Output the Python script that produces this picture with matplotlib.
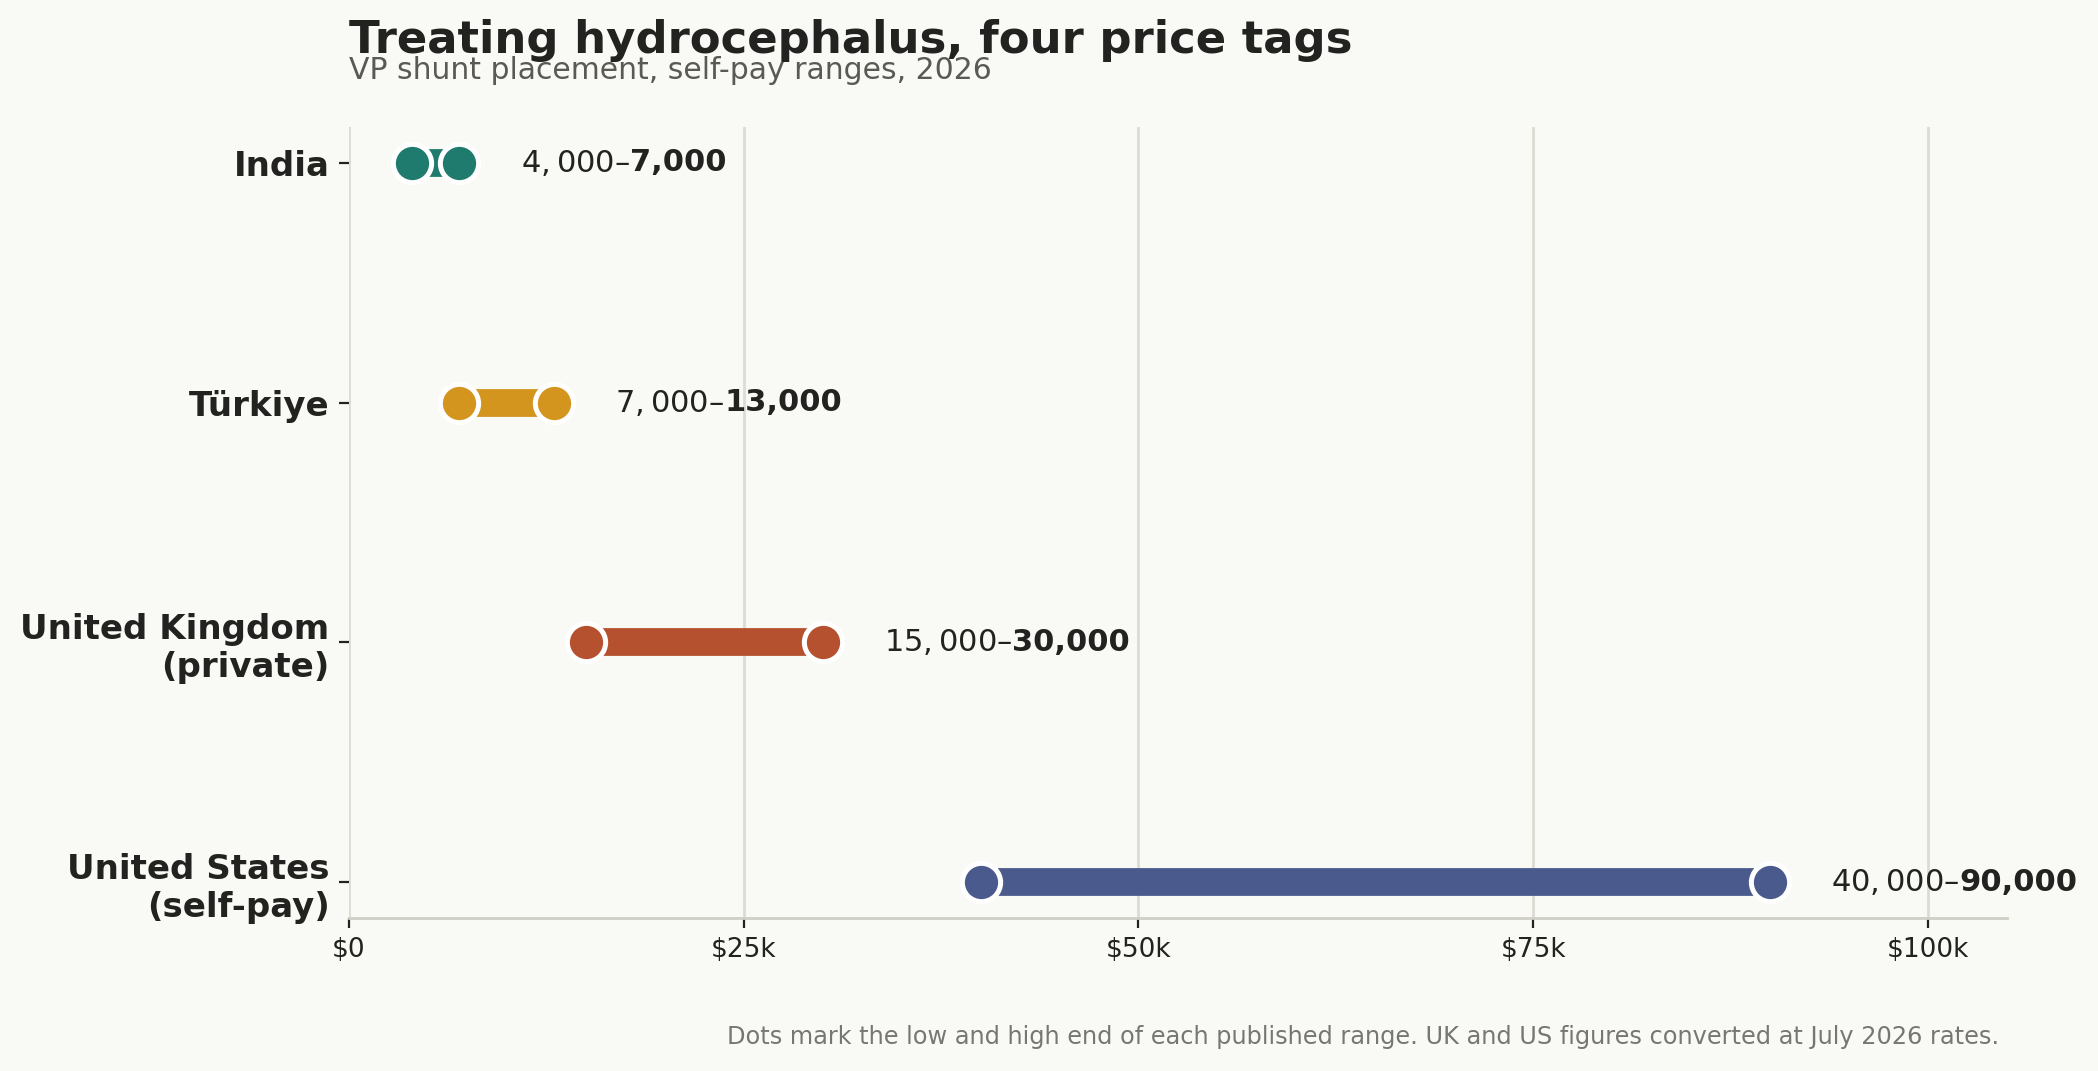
import numpy as np
import matplotlib.pyplot as plt

countries = ["India", "Türkiye", "United Kingdom\n(private)", "United States\n(self-pay)"]
low = [4000, 7000, 15000, 40000]
high = [7000, 13000, 30000, 90000]
colors = ["#1e7b6e", "#d4951f", "#b5512f", "#4a5a8c"]
ticks = [0, 25000, 50000, 75000, 100000]
tick_labels = ["$0", "$25k", "$50k", "$75k", "$100k"]

bg = "#f9f9f5"
dark = "#222220"

fig = plt.figure(figsize=(10.49, 5.355), dpi=200, facecolor=bg)
ax = fig.add_axes([0.1663, 0.1429, 0.7903, 0.7385], facecolor=bg)

y = np.arange(len(countries))
for i in range(len(countries)):
    ax.plot([low[i], high[i]], [y[i], y[i]], color=colors[i], lw=10,
            solid_capstyle="butt", zorder=2)
    ax.scatter([low[i], high[i]], [y[i], y[i]], s=190, color=colors[i],
               edgecolor="white", linewidth=1.8, zorder=3)
    t1 = ax.annotate(f"${low[i]:,}–$", xy=(high[i], y[i]), xytext=(22, 0),
                     textcoords="offset points", va="center", ha="left",
                     fontsize=11, color=dark)
    ax.annotate(f"{high[i]:,}", xy=(1, y[i]), xycoords=(t1, "data"),
                va="center", ha="left", fontsize=11, fontweight="bold",
                color=dark)

ax.set_xlim(0, 105000)
ax.set_ylim(3.15, -0.15)
ax.set_xticks(ticks)
ax.set_xticklabels(tick_labels)
ax.set_yticks(y)
ax.set_yticklabels(countries, fontsize=12.25, fontweight="bold", color=dark)
ax.tick_params(axis="x", labelsize=9.5, colors=dark, length=3.5, width=0.8)
ax.tick_params(axis="y", length=3.5, width=0.8, colors=dark)

ax.grid(axis="x", color="#dcdcd5", lw=1)
ax.set_axisbelow(True)
for s in ["top", "right", "left"]:
    ax.spines[s].set_visible(False)
ax.spines["bottom"].set_color("#cfcfc5")
ax.spines["bottom"].set_linewidth(1)

fig.text(0.1663, 0.962, "Treating hydrocephalus, four price tags", fontsize=16.2,
         fontweight="bold", color=dark, va="center", ha="left")
fig.text(0.1663, 0.934, "VP shunt placement, self-pay ranges, 2026", fontsize=10.75,
         color="#5a5a55", va="center", ha="left")
fig.text(0.953, 0.032, "Dots mark the low and high end of each published range. "
         "UK and US figures converted at July 2026 rates.", fontsize=8.67,
         color="#777772", va="center", ha="right")

fig.savefig("out.png", dpi=200, facecolor=bg)
